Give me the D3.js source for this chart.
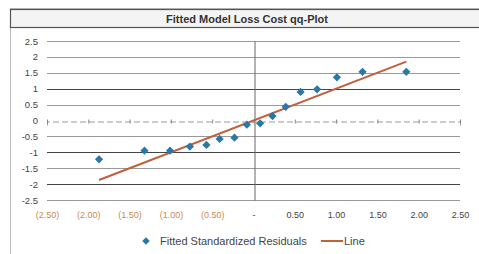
<!DOCTYPE html>
<html><head><meta charset="utf-8">
<script src="https://cdn.jsdelivr.net/npm/d3@7"></script>
<style>body{margin:0;background:#fff;} svg{display:block;font-family:"Liberation Sans",Arial,sans-serif;}</style>
</head><body>
<svg id="c" width="479" height="254"></svg>
<script>
const title = "Fitted Model Loss Cost qq-Plot";
const theoretical = [-1.87,-1.32,-1.01,-0.77,-0.57,-0.41,-0.23,-0.08,0.08,0.23,0.39,0.57,0.77,1.01,1.32,1.85];
const residuals  = [-1.22,-0.95,-0.95,-0.82,-0.77,-0.58,-0.54,-0.13,-0.09,0.14,0.43,0.90,0.98,1.36,1.53,1.53];
const lineX = [-1.87, 1.85];
const lineY = [-1.87, 1.85];
const xTicks = [-2.5,-2,-1.5,-1,-0.5,0,0.5,1,1.5,2,2.5];
const yTicks = [2.5,2,1.5,1,0.5,0,-0.5,-1,-1.5,-2,-2.5];
const seriesNames = ["Fitted Standardized Residuals","Line"];

const svg = d3.select("#c");
const x = d3.scaleLinear().domain([-2.5,2.5]).range([47,460]);
const y = d3.scaleLinear().domain([-2.5,2.5]).range([200,41]);
const BLUE = "#2a78a8", RED = "#c0603c";

// outer frame & title band
svg.append("rect").attr("x",10.5).attr("y",8.5).attr("width",480).attr("height",260)
  .attr("fill","none").attr("stroke","#bbb");
svg.append("rect").attr("x",10.5).attr("y",9.5).attr("width",480).attr("height",18)
  .attr("fill","#f4f4f4").attr("stroke","#555").attr("stroke-width",1.2);
svg.append("text").attr("x",247).attr("y",22.5).attr("text-anchor","middle")
  .attr("font-size",11).attr("font-weight","bold").attr("fill","#333").text(title);

// gridlines
svg.append("g").selectAll("line").data(yTicks.filter(d=>d!==0)).join("line")
  .attr("x1",x(-2.5)).attr("x2",x(2.5))
  .attr("y1",d=>Math.round(y(d))+0.5).attr("y2",d=>Math.round(y(d))+0.5)
  .attr("stroke",d=>(d===1||d===-1||d===-2)?"#444":"#999").attr("stroke-width",1);

// y axis line at x=0
const yAxis = d3.axisLeft(y).tickValues(yTicks).tickSize(0).tickFormat("");
svg.append("g").attr("transform",`translate(${Math.round(x(0))+0.5},0)`).call(yAxis)
  .call(g=>g.select(".domain").attr("stroke","#666"));
const yLab = svg.append("g").attr("transform","translate(38,0)").call(d3.axisLeft(y).tickValues(yTicks).tickSize(0).tickFormat(d=>String(d)));
yLab.select(".domain").remove();
yLab.selectAll("text").attr("font-size",9.5).attr("fill","#444").attr("font-family","'Liberation Sans',sans-serif").attr("x",0);

// x axis line at y=0
const xAxis = d3.axisBottom(x).tickValues(xTicks).tickSize(4).tickFormat("");
svg.append("g").attr("transform",`translate(0,${Math.round(y(0))+0.5})`).call(xAxis)
  .call(g=>{g.select(".domain").attr("stroke","#999").attr("stroke-dasharray","6,3");g.selectAll(".tick line").attr("stroke","#888").attr("transform","translate(0,-2)");});

const fmt = d=> d===0 ? "-" : (d<0 ? "("+d3.format(".2f")(-d)+")" : d3.format(".2f")(d));
const xLab = svg.append("g").attr("transform","translate(0,209)").call(d3.axisBottom(x).tickValues(xTicks).tickSize(0).tickFormat(fmt));
xLab.select(".domain").remove();
xLab.selectAll("text").attr("font-size",9).attr("font-family","'Liberation Sans',sans-serif")
  .attr("fill",d=>d<0?"#c98a55":"#444");

// line
const lineData = lineX.map((v,i)=>[v,lineY[i]]);
svg.append("path").datum(lineData).attr("fill","none").attr("stroke",RED).attr("stroke-width",2)
  .attr("d",d3.line().x(d=>x(d[0])).y(d=>y(d[1])));

// points (diamonds = rotated squares)
const sq = d3.symbol().type(d3.symbolSquare).size(34);
svg.append("g").selectAll("path").data(theoretical.map((v,i)=>[v,residuals[i]])).join("path")
  .attr("transform",d=>`translate(${x(d[0])},${y(d[1])}) rotate(45)`)
  .attr("d",sq).attr("fill",BLUE);

// legend
const lg = svg.append("g").attr("transform","translate(0,241)");
lg.append("path").attr("transform","translate(146,0) rotate(45)").attr("d",d3.symbol().type(d3.symbolSquare).size(28)).attr("fill",BLUE);
lg.append("text").attr("x",160).attr("y",4).attr("font-size",11).attr("fill","#444").text(seriesNames[0]);
lg.append("line").attr("x1",321).attr("x2",343).attr("y1",0).attr("y2",0).attr("stroke",RED).attr("stroke-width",2);
lg.append("text").attr("x",344).attr("y",4).attr("font-size",11).attr("fill","#444").text(seriesNames[1]);
</script>
</body></html>
